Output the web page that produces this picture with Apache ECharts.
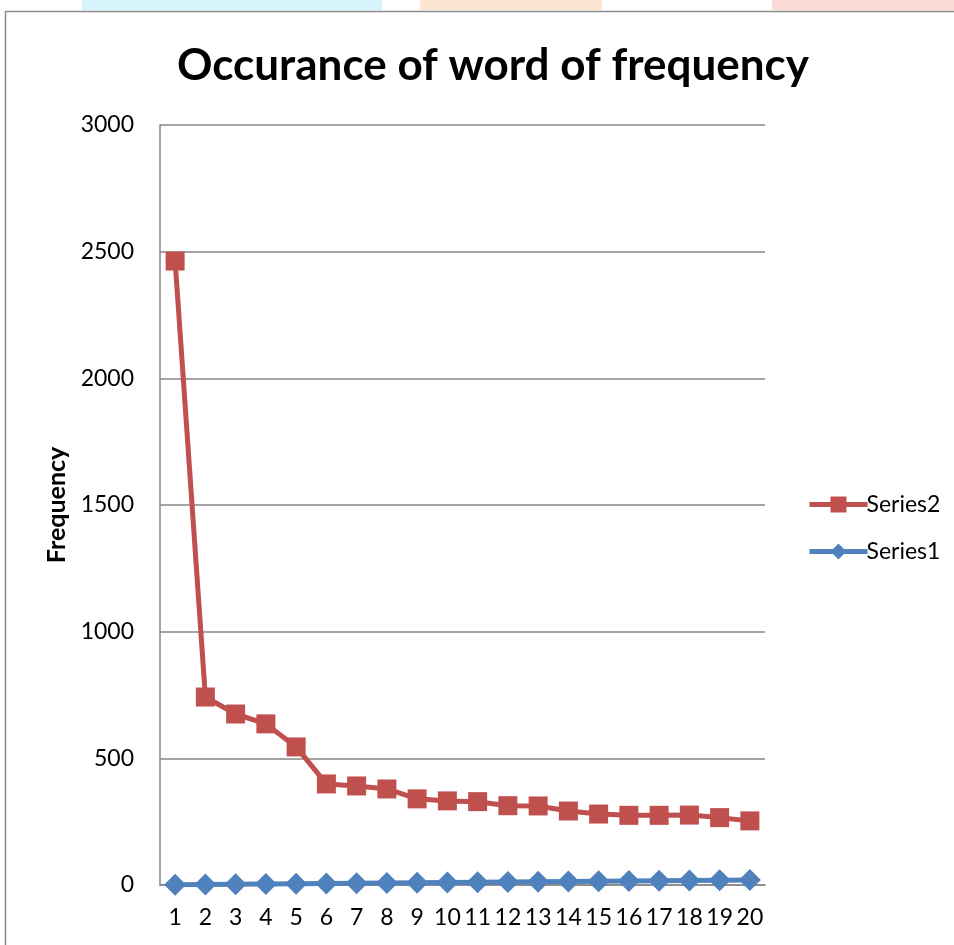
<!DOCTYPE html>
<html><head><meta charset="utf-8">
<script src="https://cdn.jsdelivr.net/npm/echarts@6/dist/echarts.min.js"></script>
<style>html,body{margin:0;padding:0;background:#fff}#c{width:954px;height:945px}</style>
</head><body><div id="c"></div>
<script>
const categories = ['1','2','3','4','5','6','7','8','9','10','11','12','13','14','15','16','17','18','19','20'];
const series2 = [2463, 742, 675, 636, 545, 399, 391, 379, 340, 332, 329, 313, 312, 292, 280, 275, 275, 276, 266, 253];
const series1 = [1, 2, 3, 4, 5, 6, 7, 8, 9, 10, 11, 12, 13, 14, 15, 16, 17, 18, 19, 20];
const yTicks = [0, 500, 1000, 1500, 2000, 2500, 3000];

const font = 'Lato, "Open Sans", sans-serif';
const chart = echarts.init(document.getElementById('c'));
chart.setOption({
  animation: false,
  backgroundColor: '#fff',
  graphic: [
    {type:'rect', shape:{x:82,y:0,width:300,height:10}, style:{fill:'#d6f4fb'}, silent:true},
    {type:'rect', shape:{x:420,y:0,width:182,height:10}, style:{fill:'#fde6d1'}, silent:true},
    {type:'rect', shape:{x:772,y:0,width:182,height:10}, style:{fill:'#fcdad5'}, silent:true},
    {type:'rect', shape:{x:5.5,y:11.5,width:1000,height:1000}, style:{fill:'none', stroke:'#8a8a8a', lineWidth:1.5}, silent:true}
  ],
  title: {
    text: 'Occurance of word of frequency',
    left: 488, top: 39, textAlign: 'center',
    textStyle: {fontFamily: font, fontWeight: 'bold', fontSize: 44, color: '#000'}
  },
  legend: {
    orient: 'vertical', left: 802, top: 488, itemGap: 24,
    itemWidth: 58, itemHeight: 20,
    data: ['Series2', 'Series1'],
    lineStyle: {width: 5},
    textStyle: {fontFamily: font, fontSize: 23, color: '#000', padding:[0,0,0,-6]}
  },
  grid: {left: 160, top: 125, right: 189, bottom: 60},
  xAxis: {
    type: 'category', data: categories, boundaryGap: true,
    axisLine: {lineStyle: {color: '#868686', width: 1.5}},
    axisTick: {show: false},
    axisLabel: {fontFamily: font, fontSize: 23, color: '#000', margin: 21, interval: 0}
  },
  yAxis: {
    type: 'value', min: 0, max: 3000, interval: 500,
    name: 'Frequency', nameLocation: 'middle', nameGap: 87, nameRotate: 90,
    nameTextStyle: {fontFamily: font, fontWeight: 'bold', fontSize: 25, color: '#000'},
    axisLine: {show: true, lineStyle: {color: '#868686', width: 1.5}},
    axisTick: {show: false},
    splitLine: {lineStyle: {color: '#868686', width: 1.5}},
    axisLabel: {fontFamily: font, fontSize: 23, color: '#000', margin: 26,
      formatter: v => yTicks.includes(v) ? String(v) : ''}
  },
  series: [
    {name: 'Series2', type: 'line', data: series2, symbol: 'rect', symbolSize: 19,
     lineStyle: {color: '#c0504d', width: 5}, itemStyle: {color: '#c0504d'}, z: 3},
    {name: 'Series1', type: 'line', data: series1, symbol: 'diamond', symbolSize: 22,
     lineStyle: {color: '#4f81bd', width: 5}, itemStyle: {color: '#4f81bd'}, z: 2}
  ]
});
</script></body></html>
